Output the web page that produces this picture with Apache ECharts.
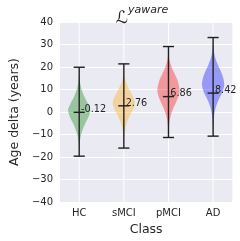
<!DOCTYPE html>
<html><head><meta charset="utf-8">
<script src="https://cdn.jsdelivr.net/npm/echarts@6/dist/echarts.min.js"></script>
<style>html,body{margin:0;padding:0;background:#fff}#c{width:240px;height:241px}</style>
</head><body><div id="c"></div>
<script>
const categories = ['HC', 'sMCI', 'pMCI', 'AD'];
const means = [-0.12, 2.76, 6.86, 8.42];
const mins = [-19.6, -16.0, -11.3, -10.7];
const maxs = [19.9, 21.4, 29.1, 33.1];
const meanLabels = ['-0.12', '2.76', '6.86', '8.42'];
// density profiles: [age delta, relative half-width]
const profileHC = [[19.9,0],[16,0.02],[13,0.08],[10,0.22],[7,0.45],[4,0.75],[1,1],[-2,0.85],[-5,0.55],[-8,0.3],[-11,0.13],[-14,0.04],[-19.6,0]];
const profileSMCI = [[21.4,0],[18,0.02],[15,0.1],[12,0.3],[9,0.6],[6,0.9],[4,1],[1,0.82],[-2,0.5],[-5,0.25],[-8,0.1],[-11,0.03],[-16,0]];
const profilePMCI = [[29.1,0],[26,0.02],[23,0.1],[20,0.28],[17,0.55],[14,0.82],[10,1],[7,0.9],[4,0.65],[1,0.38],[-2,0.18],[-5,0.07],[-8,0.02],[-11.3,0]];
const profileAD = [[33.1,0],[30,0.02],[27,0.07],[24,0.2],[21,0.42],[18,0.7],[15,0.92],[12,1],[9,0.85],[6,0.55],[3,0.3],[0,0.14],[-3,0.06],[-7,0.02],[-10.7,0]];
const profiles = [profileHC, profileSMCI, profilePMCI, profileAD];
const colors = ['rgba(0,128,0,0.35)', 'rgba(255,165,0,0.35)', 'rgba(255,0,0,0.35)', 'rgba(0,0,255,0.35)'];

const chart = echarts.init(document.getElementById('c'), null, {renderer: 'canvas'});
const FONT = 'DejaVu Sans';
const halfW = 0.25, capW = 0.125;

chart.setOption({
  backgroundColor: '#ffffff',
  animation: false,
  title: {
    text: '{L|ℒ}{sup|yaware}',
    left: 137, top: 0, textAlign: 'center',
    textStyle: {
      fontFamily: FONT, fontSize: 17, color: '#262626', fontWeight: 'normal',
      rich: {
        L: { fontFamily: FONT, fontSize: 17, color: '#262626', lineHeight: 22, verticalAlign: 'bottom' },
        sup: { fontFamily: FONT, fontSize: 11, fontStyle: 'italic', color: '#262626', verticalAlign: 'top', lineHeight: 13 }
      }
    }
  },
  grid: { left: 47.5, right: 7.7, top: 22, bottom: 37, show: true, backgroundColor: '#eaeaf2', borderWidth: 0 },
  xAxis: {
    type: 'value', min: -0.43, max: 3.43,
    name: 'Class', nameLocation: 'middle', nameGap: 24,
    nameTextStyle: { fontFamily: FONT, fontSize: 12.5, color: '#262626', verticalAlign: 'middle' },
    axisLine: { show: false }, axisTick: { show: false, customValues: [0,1,2,3] },
    splitLine: { show: false },
    axisLabel: { customValues: [0,1,2,3], formatter: v => categories[Math.round(v)] || '', fontFamily: FONT, fontSize: 10, color: '#262626', margin: 6 }
  },
  yAxis: {
    type: 'value', min: -40, max: 40, interval: 10,
    name: 'Age delta (years)', nameLocation: 'middle', nameGap: 36,
    nameTextStyle: { fontFamily: FONT, fontSize: 12.5, color: '#262626', verticalAlign: 'middle' },
    axisLine: { show: false }, axisTick: { show: false },
    splitLine: { show: true, lineStyle: { color: '#ffffff', width: 1 } },
    axisLabel: { formatter: v => String(v).replace('-', '\u2212'), fontFamily: FONT, fontSize: 10, color: '#262626', margin: 7 }
  },
  series: [{
    type: 'custom',
    coordinateSystem: 'cartesian2d',
    data: categories.map((c, i) => [i, means[i]]),
    clip: false,
    renderItem: function (params, api) {
      const i = api.value(0);
      const prof = profiles[i];
      const top = api.coord([i, 40])[1], bot = api.coord([i, -40])[1];
      const cx = api.coord([i, 0])[0];
      const right = prof.map(p => api.coord([i + halfW * p[1], p[0]]));
      const left = prof.slice().reverse().map(p => api.coord([i - halfW * p[1], p[0]]));
      const pts = right.concat(left);
      const pMin = api.coord([i, mins[i]]), pMax = api.coord([i, maxs[i]]), pMean = api.coord([i, means[i]]);
      const capL = api.coord([i - capW, 0])[0], capR = api.coord([i + capW, 0])[0];
      const ls = { stroke: '#1f1f1f', lineWidth: 1.4 };
      return {
        type: 'group',
        children: [
          { type: 'line', shape: { x1: cx, y1: top, x2: cx, y2: bot }, style: { stroke: '#ffffff', lineWidth: 1 } },
          { type: 'polygon', shape: { points: pts, smooth: 0.2 }, style: { fill: colors[i], stroke: null } },
          { type: 'line', shape: { x1: cx, y1: pMax[1], x2: cx, y2: pMin[1] }, style: ls },
          { type: 'line', shape: { x1: capL, y1: pMax[1], x2: capR, y2: pMax[1] }, style: ls },
          { type: 'line', shape: { x1: capL, y1: pMin[1], x2: capR, y2: pMin[1] }, style: ls },
          { type: 'line', shape: { x1: capL, y1: pMean[1], x2: capR, y2: pMean[1] }, style: ls },
          { type: 'text', style: { x: cx + 1.8, y: pMean[1] - 2.8, text: meanLabels[i], fill: '#262626', font: '9.7px "DejaVu Sans"', textAlign: 'left', textVerticalAlign: 'middle' } }
        ]
      };
    }
  }]
});
</script></body></html>
